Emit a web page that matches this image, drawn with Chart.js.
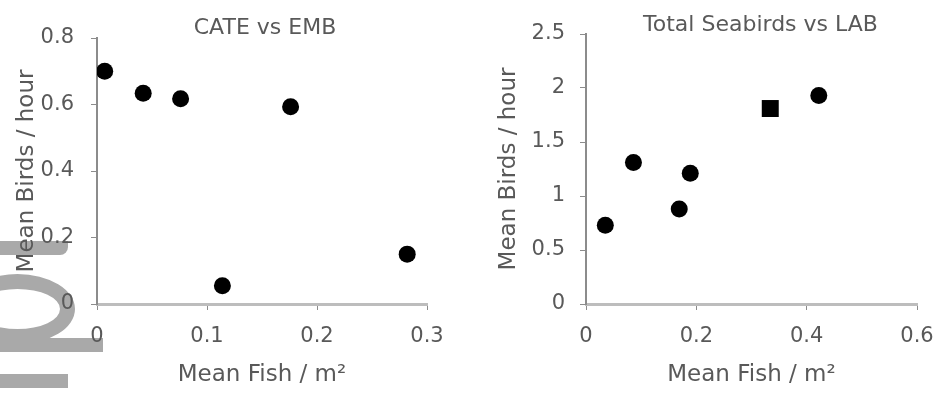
<!DOCTYPE html>
<html>
<head>
<meta charset="utf-8">
<script src="https://cdn.jsdelivr.net/npm/chart.js@4"></script>
<style>
  body { margin: 0; background: #fff; }
  #wrap { position: relative; width: 939px; height: 403px; overflow: hidden; }
  canvas { position: absolute; top: 0; }
  .mark { position: absolute; background: #a9a9a9; }
</style>
</head>
<body>
<div id="wrap">
  <!-- grey stamp behind the left chart -->
  <div class="mark" style="left:0;top:241px;width:68px;height:14px;border-bottom-right-radius:8px;"></div>
  <div class="mark" style="left:-40px;top:274px;width:115px;height:70px;background:none;border:15px solid #a9a9a9;box-sizing:border-box;border-radius:50%;"></div>
  <div class="mark" style="left:0;top:338px;width:103px;height:14px;"></div>
  <div class="mark" style="left:0;top:374px;width:68px;height:14px;"></div>

  <canvas id="left-chart" width="470" height="403" style="left:0"></canvas>
  <canvas id="right-chart" width="469" height="403" style="left:470px"></canvas>
</div>
<script>
// CATE vs EMB
const cateFish = [0.007, 0.042, 0.076, 0.176, 0.114, 0.282];
const cateBirds = [0.70, 0.634, 0.617, 0.593, 0.055, 0.150];
const cateXTicks = [0, 0.1, 0.2, 0.3];
const cateYTicks = [0, 0.2, 0.4, 0.6, 0.8];

// Total Seabirds vs LAB
const labFish = [0.035, 0.086, 0.169, 0.189, 0.334, 0.422];
const labBirds = [0.73, 1.31, 0.88, 1.21, 1.81, 1.93];
const labShapes = ['circle', 'circle', 'circle', 'circle', 'rect', 'circle'];
const labXTicks = [0, 0.2, 0.4, 0.6];
const labYTicks = [0, 0.5, 1, 1.5, 2, 2.5];

const textColor = '#595959';
const fontFamily = '"DejaVu Sans", sans-serif';

// excel centres the chart title over the plot area, not the whole canvas
const titleOverPlot = {
    id: 'titleOverPlot',
    afterLayout(chart, args, opts) {
        const t = chart.titleBlock;
        if (!t) return;
        const shift = opts.shift || 0;
        t.left = chart.chartArea.left + shift;
        t.right = chart.chartArea.right + shift;
        t.width = t.right - t.left;
    }
};

function tickText(v) {
    return String(Math.round(v * 10) / 10);
}

function makeChart(id, opts) {
    const points = opts.xs.map((x, i) => ({ x: x, y: opts.ys[i] }));
    const radii = opts.shapes
        ? opts.shapes.map(s => s === 'rect' ? 12 : 8.5)
        : 8.5;

    return new Chart(document.getElementById(id).getContext('2d'), {
        type: 'scatter',
        data: {
            datasets: [{
                data: points,
                backgroundColor: '#000',
                borderWidth: 0,
                pointRadius: radii,
                pointStyle: opts.shapes || 'circle'
            }]
        },
        plugins: [titleOverPlot],
        options: {
            responsive: false,
            animation: false,
            layout: { padding: { left: 0, right: opts.rightPad, top: 0, bottom: 0 } },
            plugins: {
                legend: { display: false },
                tooltip: { enabled: false },
                titleOverPlot: { shift: opts.titleShift },
                title: {
                    display: true,
                    text: opts.title,
                    color: textColor,
                    font: { family: fontFamily, size: 22, weight: 'normal', lineHeight: 1 },
                    padding: { top: opts.titleTop, bottom: opts.titleBottom }
                }
            },
            scales: {
                x: {
                    type: 'linear',
                    min: opts.xTicks[0],
                    max: opts.xTicks[opts.xTicks.length - 1],
                    afterBuildTicks: s => { s.ticks = opts.xTicks.map(v => ({ value: v })); },
                    afterFit: s => {
                        s.height = 99;
                        // let layout.padding decide where the plot ends
                        s.paddingRight = 0;
                    },
                    border: { color: '#bdbdbd', width: 3 },
                    grid: { drawOnChartArea: false, drawTicks: true, tickLength: 6, color: '#8c8c8c' },
                    ticks: {
                        color: textColor,
                        padding: 16,
                        callback: tickText,
                        font: { family: fontFamily, size: 21, lineHeight: 1 }
                    },
                    title: {
                        display: true,
                        text: 'Mean Fish / m²',
                        color: textColor,
                        font: { family: fontFamily, size: 23, lineHeight: 1 },
                        padding: { top: 0, bottom: 16 }
                    }
                },
                y: {
                    type: 'linear',
                    min: opts.yTicks[0],
                    max: opts.yTicks[opts.yTicks.length - 1],
                    afterBuildTicks: s => { s.ticks = opts.yTicks.map(v => ({ value: v })); },
                    afterFit: s => { s.width = opts.yWidth; },
                    border: { color: '#8c8c8c', width: 2 },
                    grid: { drawOnChartArea: false, drawTicks: true, tickLength: 6, color: '#8c8c8c' },
                    ticks: {
                        color: textColor,
                        padding: opts.yTickPad,
                        callback: tickText,
                        font: { family: fontFamily, size: 21, lineHeight: 1 }
                    },
                    title: {
                        display: true,
                        text: 'Mean Birds / hour',
                        color: textColor,
                        font: { family: fontFamily, size: 23, lineHeight: 1 },
                        padding: { top: opts.yTitlePad, bottom: 0 }
                    }
                }
            }
        }
    });
}

makeChart('left-chart', {
    title: 'CATE vs EMB',
    xs: cateFish, ys: cateBirds,
    xTicks: cateXTicks, yTicks: cateYTicks,
    titleTop: 17, titleBottom: -1, titleShift: 3,
    rightPad: 43, yWidth: 97, yTickPad: 17, yTitlePad: 16
});

makeChart('right-chart', {
    title: 'Total Seabirds vs LAB',
    xs: labFish, ys: labBirds, shapes: labShapes,
    xTicks: labXTicks, yTicks: labYTicks,
    titleTop: 14, titleBottom: -2, titleShift: 9,
    rightPad: 22, yWidth: 116, yTickPad: 15, yTitlePad: 28
});
</script>
</body>
</html>
